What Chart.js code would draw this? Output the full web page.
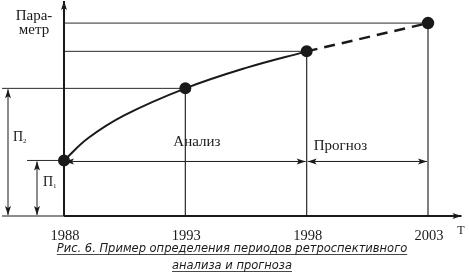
<!DOCTYPE html>
<html>
<head>
<meta charset="utf-8">
<script src="https://cdn.jsdelivr.net/npm/chart.js@4/dist/chart.umd.min.js"></script>
<style>
    html, body { margin: 0; padding: 0; background: #fff; }
    #wrap { width: 469px; height: 279px; position: relative; }
</style>
</head>
<body>
<div id="wrap"><canvas id="chart"></canvas></div>
<script>
// values (parameter in arbitrary units)
const years = [1988, 1993, 1998, 2003];
const yearLabels = ['1988', '1993', '1998', '2003'];
const yearValues = [5.7, 13.1, 16.9, 19.8];
// the solid curve
const analysisYears = [1988, 1989, 1990.5, 1993, 1995.5, 1998];
const analysisValues = [5.7, 8.0, 10.35, 13.1, 15.2, 16.9];
const forecastYears = [1998, 2003];
const forecastValues = [16.9, 19.8];

const INK = '#1a1a1a';
const SERIF = "'Liberation Serif', 'DejaVu Serif', serif";

function arrowHead(ctx, x, y, angle, len, half) {
    ctx.save();
    ctx.translate(x, y);
    ctx.rotate(angle);
    ctx.beginPath();
    ctx.moveTo(0, 0);
    ctx.lineTo(-len, -half);
    ctx.lineTo(-len + 2, 0);
    ctx.lineTo(-len, half);
    ctx.closePath();
    ctx.fill();
    ctx.restore();
}

function arrowLine(ctx, x1, y1, x2, y2, startHead, endHead, width) {
    ctx.lineWidth = width || 1;
    ctx.beginPath();
    ctx.moveTo(x1, y1);
    ctx.lineTo(x2, y2);
    ctx.stroke();
    const a = Math.atan2(y2 - y1, x2 - x1);
    if (endHead) arrowHead(ctx, x2, y2, a, 9, 3);
    if (startHead) arrowHead(ctx, x1, y1, a + Math.PI, 9, 3);
}

function hline(ctx, x1, x2, y, w) {
    ctx.lineWidth = w || 1;
    ctx.beginPath();
    ctx.moveTo(x1, y);
    ctx.lineTo(x2, y);
    ctx.stroke();
}

function vline(ctx, x, y1, y2, w) {
    ctx.lineWidth = w || 1;
    ctx.beginPath();
    ctx.moveTo(x, y1);
    ctx.lineTo(x, y2);
    ctx.stroke();
}

const diagram = {
    id: 'diagram',
    beforeDatasetsDraw(chart) {
        const ctx = chart.ctx;
        const xs = chart.scales.x;
        const ys = chart.scales.y;
        const area = chart.chartArea;
        const x0 = area.left;
        const yBase = area.bottom;

        const px = years.map(y => xs.getPixelForValue(y));
        const py = yearValues.map(v => ys.getPixelForValue(v));

        ctx.save();
        ctx.strokeStyle = '#2a2a2a';
        ctx.fillStyle = INK;

        // horizontal guides from the points to the parameter axis
        hline(ctx, x0, px[3], py[3], 1);
        hline(ctx, x0, px[2], py[2], 1);
        hline(ctx, 2, px[1], py[1], 1);
        hline(ctx, x0 - 37, x0, py[0], 1);

        // vertical guides down to the time axis
        vline(ctx, px[1], py[1], yBase, 1.2);
        vline(ctx, px[2], py[2], yBase, 1.2);
        vline(ctx, px[3], py[3], yBase, 1.2);

        // axes
        ctx.strokeStyle = INK;
        arrowLine(ctx, x0, yBase, x0, 1, false, true, 2);
        hline(ctx, 2, x0, yBase, 1.2);
        arrowLine(ctx, x0, yBase, area.right, yBase, false, true, 2);

        // periods of analysis and forecast
        const yArrow = py[0] + 1;
        arrowLine(ctx, x0 + 1, yArrow, px[2] - 1, yArrow, true, true, 1);
        arrowLine(ctx, px[2] + 1, yArrow, px[3] - 1, yArrow, true, true, 1);

        // П1, П2 spans on the left
        arrowLine(ctx, x0 - 56, py[1] + 1, x0 - 56, yBase - 1, true, true, 1);
        arrowLine(ctx, x0 - 27, py[0] + 1, x0 - 27, yBase - 1, true, true, 1);

        // texts
        ctx.fillStyle = INK;
        ctx.textBaseline = 'alphabetic';
        ctx.textAlign = 'center';
        ctx.font = '15px ' + SERIF;
        ctx.fillText('Пара-', 34, 20);
        ctx.fillText('метр', 34, 34);

        ctx.textAlign = 'left';
        ctx.font = '15px ' + SERIF;
        ctx.fillText('Анализ', px[1] - 12, 146);
        ctx.fillText('Прогноз', px[2] + 7, 150);

        ctx.font = '14px ' + SERIF;
        ctx.fillText('П', 13, 141);
        ctx.fillText('П', 43, 186);
        ctx.font = '7px ' + SERIF;
        ctx.fillText('2', 23, 143);
        ctx.fillText('1', 53, 188);

        ctx.textAlign = 'center';
        ctx.font = '14.5px ' + SERIF;
        yearLabels.forEach((lab, i) => {
            ctx.fillText(lab, px[i] + 1, 240);
        });
        ctx.font = '12px ' + SERIF;
        ctx.fillText('T', 461, 234);

        // caption
        ctx.font = "italic 11.5px 'DejaVu Sans', sans-serif";
        const cap1 = 'Рис. 6. Пример определения периодов ретроспективного';
        const cap2 = 'анализа и прогноза';
        const cx = 232;
        ctx.fillText(cap1, cx, 252);
        ctx.fillText(cap2, cx, 269);
        const w1 = ctx.measureText(cap1).width;
        const w2 = ctx.measureText(cap2).width;
        hline(ctx, cx - w1 / 2, cx + w1 / 2, 254.5, 0.8);
        hline(ctx, cx - w2 / 2, cx + w2 / 2, 271.5, 0.8);

        ctx.restore();
    }
};

// markers only at the reference years
const analysisRadius = analysisYears.map(y => (years.includes(y) ? 5 : 0));
const forecastRadius = forecastYears.map((y, i) => (i > 0 ? 5 : 0));

const ctx = document.getElementById('chart').getContext('2d');
new Chart(ctx, {
    type: 'line',
    data: {
        datasets: [
            {
                label: 'Анализ',
                data: analysisYears.map((y, i) => ({ x: y, y: analysisValues[i] })),
                borderColor: INK,
                borderWidth: 2,
                tension: 0.4,
                pointRadius: analysisRadius,
                pointBackgroundColor: INK,
                pointBorderColor: INK,
                clip: false
            },
            {
                label: 'Прогноз',
                data: forecastYears.map((y, i) => ({ x: y, y: forecastValues[i] })),
                borderColor: INK,
                borderWidth: 2.5,
                borderDash: [11, 7],
                tension: 0,
                pointRadius: forecastRadius,
                pointBackgroundColor: INK,
                pointBorderColor: INK,
                clip: false
            }
        ]
    },
    options: {
        responsive: true,
        maintainAspectRatio: false,
        animation: false,
        layout: { padding: { left: 64, right: 2, top: 2, bottom: 63 } },
        plugins: {
            legend: { display: false },
            tooltip: { enabled: false }
        },
        scales: {
            x: { type: 'linear', min: 1988, max: 2004.38, display: false },
            y: { type: 'linear', min: 0, max: 21.4, display: false }
        }
    },
    plugins: [diagram]
});
</script>
</body>
</html>
